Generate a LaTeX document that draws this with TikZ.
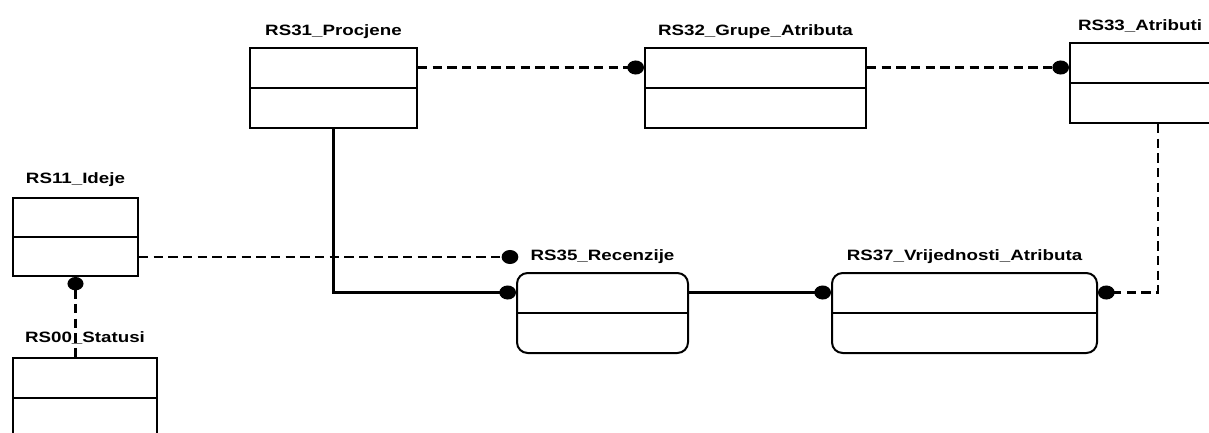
\documentclass[tikz,border=0pt]{standalone}
\usepackage{fontspec}
\setmainfont{Liberation Sans}[FakeStretch=1.25]
\usepackage{tikz}
\usetikzlibrary{arrows.meta,positioning,calc}

\begin{document}
\begin{tikzpicture}[x=0.75pt, y=-0.75pt,
    ent/.style 2 args={draw, line width=1.5pt, inner sep=0pt,
          minimum width=#1*0.75pt, minimum height=#2*0.75pt},
    lab/.style={font=\bfseries\fontsize{11.25}{13}\selectfont,
          inner sep=0pt, anchor=base},
    rel/.style={line width=1.7pt},
    opt/.style={rel, dash pattern=on 7pt off 4pt},
    ball/.style={-{Circle[length=12.5pt, width=10.5pt]}}]
  \useasboundingbox (0,0) rectangle (1209,432);

  % entities
  \node[ent={167}{80}] (rs31) at (333.5, 88){};
  \node[ent={221}{80}] (rs32) at (755.5, 88){};
  \node[ent={140}{80}] (rs33) at (1140, 83){};
  \node[ent={125}{78}] (rs11) at (75.5, 237){};
  \node[ent={144}{80}] (rs00) at (85, 398){};
  \node[ent={171}{80}, rounded corners=8pt] (rs35) at (602.5, 313){};
  \node[ent={265}{80}, rounded corners=8pt] (rs37) at (964.5, 313){};

  \foreach \n in {rs31, rs32, rs33, rs11, rs00, rs35, rs37}{
    \draw[line width=1.5pt] (\n.west) -- (\n.east);
    \coordinate (\n-w) at ($(\n.north west)!0.25!(\n.south west)$);
    \coordinate (\n-e) at ($(\n.north east)!0.25!(\n.south east)$);
  }
  \coordinate (rs11-lo) at ($(rs11.north east)!0.75!(rs11.south east)$);

  % names
  \node[above=9pt of rs31, lab] (rs31l){RS31\_Procjene};
  \node[above=9pt of rs32, lab] (rs32l){RS32\_Grupe\_Atributa};
  \node[above=9pt of rs33, lab] (rs33l){RS33\_Atributi};
  \node[above=10.5pt of rs11, lab] (rs11l){RS11\_Ideje};
  \node[above=11pt of rs00, lab] (rs00l){RS00\_Statusi};
  \node[above=9pt of rs35, lab] (rs35l){RS35\_Recenzije};
  \node[above=9pt of rs37, lab] (rs37l){RS37\_Vrijednosti\_Atributa};

  % relations
  \draw[opt, ball] (rs31-e) -- (rs32-w);
  \draw[opt, ball] (rs32-e) -- (rs32-e -| rs33.west);
  \draw[opt, ball] ($(rs33.south)+(18,0)$) |- (rs37-e);
  \draw[rel, ball] (rs31.south) |- (rs35-w);
  \draw[rel, ball] (rs35-e) -- (rs37-w);
  \draw[opt, ball, shorten >=9pt] (rs11-lo) -- (rs11-lo -| rs35l.west);
  \draw[opt, {Circle[length=10pt, width=12pt]}-] (rs11.south)
    -- (rs11.south |- rs00.north);
\end{tikzpicture}
\end{document}
